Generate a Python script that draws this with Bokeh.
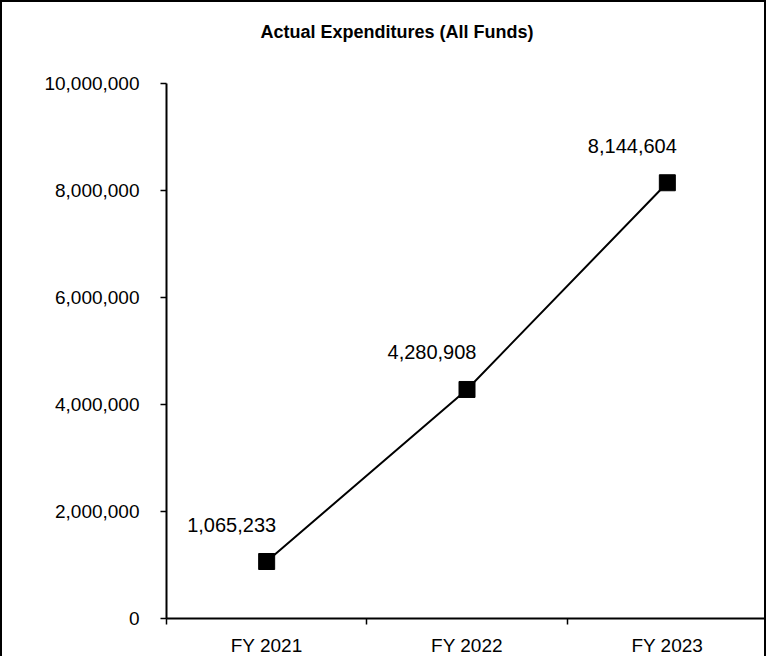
from bokeh.plotting import figure
from bokeh.models import ColumnDataSource, FixedTicker, NumeralTickFormatter, Range1d, Title
from bokeh.core.properties import value
from bokeh.embed import file_html
from bokeh.resources import INLINE

categories = ["FY 2021", "FY 2022", "FY 2023"]
expenditures = [1065233, 4280908, 8144604]
y_ticks = [0, 2000000, 4000000, 6000000, 8000000, 10000000]
chart_title = "Actual Expenditures (All Funds)"

FONT = "Liberation Sans"

xs = [i + 0.5 for i in range(len(categories))]
src = ColumnDataSource(dict(
    x=xs,
    y=expenditures,
    lbl=[f"{v:,}" for v in expenditures],
))

p = figure(width=766, height=656, output_backend="svg", toolbar_location=None,
           title=None,
           x_range=Range1d(0, len(categories)), y_range=Range1d(0, 10000000),
           min_border_left=164, min_border_right=1, min_border_top=81, min_border_bottom=38)
p.styles = {"border-top": "2px solid black", "border-left": "2px solid black",
            "border-right": "2px solid black"}
p.outline_line_color = None
p.xgrid.visible = False
p.ygrid.visible = False
p.background_fill_color = "white"
p.border_fill_color = "white"

# spacer between frame and title (nearest the frame), then the title
spacer = Title(text=" ", text_font_size="1px", standoff=38)
p.add_layout(spacer, "above")
title = Title(text=chart_title, text_font=FONT, text_font_size="18px",
              text_font_style="bold", text_color="black", align="left",
              offset=94, standoff=0, vertical_align="middle")
p.add_layout(title, "above")

p.line("x", "y", source=src, line_color="black", line_width=2)
p.scatter("x", "y", source=src, marker="square", size=16, color="black")
p.text("x", "y", text="lbl", source=src, text_font=value(FONT), text_font_size="20px",
       text_align="center", text_baseline="middle", x_offset=-35, y_offset=-37,
       text_color="black")

# y axis
p.yaxis.ticker = FixedTicker(ticks=y_ticks)
p.yaxis.formatter = NumeralTickFormatter(format="0,0")
p.yaxis.axis_line_width = 2
p.yaxis.axis_line_color = "black"
p.yaxis.major_tick_out = 6
p.yaxis.major_tick_in = 0
p.yaxis.major_tick_line_width = 1.5
p.yaxis.minor_tick_line_color = None
p.yaxis.major_label_text_font = FONT
p.yaxis.major_label_text_font_size = "19px"
p.yaxis.major_label_text_color = "black"
p.yaxis.major_label_standoff = 21

# x axis
p.xaxis.ticker = FixedTicker(ticks=xs, minor_ticks=list(range(len(categories) + 1)))
p.xaxis.major_label_overrides = {x: c for x, c in zip(xs, categories)}
p.xaxis.major_tick_line_color = None
p.xaxis.minor_tick_out = 6
p.xaxis.minor_tick_in = 0
p.xaxis.minor_tick_line_width = 1.5
p.xaxis.minor_tick_line_color = "black"
p.xaxis.axis_line_width = 2
p.xaxis.axis_line_color = "black"
p.xaxis.major_label_text_font = FONT
p.xaxis.major_label_text_font_size = "19px"
p.xaxis.major_label_text_color = "black"
p.xaxis.major_label_standoff = 10

open("out.html", "w").write(file_html(p, INLINE))
